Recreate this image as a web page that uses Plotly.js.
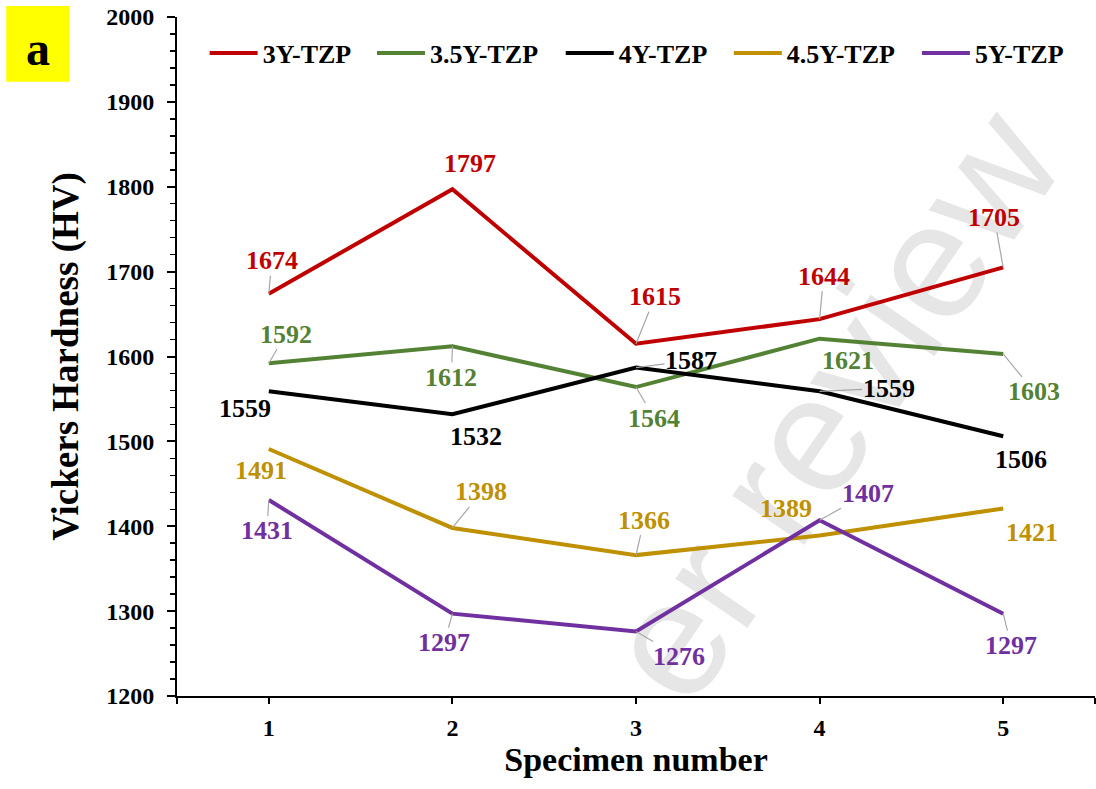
<!DOCTYPE html>
<html>
<head>
<meta charset="utf-8">
<script src="https://cdn.plot.ly/plotly-3.0.1.min.js"></script>
<style>
  html, body { margin: 0; padding: 0; background: #ffffff; overflow: hidden; }
  #wrap { position: relative; width: 1096px; height: 789px; overflow: hidden; }
  #wm { position: absolute; left: 832px; top: 405px; transform: translate(-50%, -50%) rotate(-55.5deg);
        font-family: "Liberation Sans", Arial, sans-serif; font-size: 165px; line-height: 1;
        color: #e6e6e6; white-space: nowrap; z-index: 0; }
  #chart { position: absolute; left: 0; top: 0; width: 1096px; height: 789px; z-index: 1; }
</style>
</head>
<body>
<div id="wrap">
  <div id="wm">er review</div>
  <div id="chart"></div>
</div>
<script>
// ---- data ----
const specimens = [1, 2, 3, 4, 5];
const seriesNames = ['3Y-TZP', '3.5Y-TZP', '4Y-TZP', '4.5Y-TZP', '5Y-TZP'];
const hv3Y  = [1674, 1797, 1615, 1644, 1705];
const hv35Y = [1592, 1612, 1564, 1621, 1603];
const hv4Y  = [1559, 1532, 1587, 1559, 1506];
const hv45Y = [1491, 1398, 1366, 1389, 1421];
const hv5Y  = [1431, 1297, 1276, 1407, 1297];
const xTickVals = [0.5, 1, 2, 3, 4, 5, 5.5];
const xTickText = ['', '1', '2', '3', '4', '5', ''];

// ---- styling / layout helpers (not data) ----
const seriesValues = [hv3Y, hv35Y, hv4Y, hv45Y, hv5Y];
const colors = ['#C00000', '#548235', '#000000', '#BF9000', '#7030A0'];
// label offsets in px [ax, ay, hasLeader]
const labelOffsets = [
  [[3, -33, 1], [18, -26, 0], [19, -47, 1], [4, -43, 1], [-9, -50, 1]],
  [[17, -29, 1], [-1, 31, 1], [18, 31, 1], [28, 22, 0], [31, 38, 1]],
  [[-24, 17, 0], [24, 22, 0], [55, -7, 1], [69, -3, 1], [18, 23, 0]],
  [[-8, 21, 0], [29, -36, 1], [8, -35, 1], [-34, -27, 0], [29, 24, 0]],
  [[-2, 31, 1], [-8, 29, 1], [43, 25, 1], [48, -27, 1], [8, 32, 1]]
];
const legendX = [0.0301, 0.2124, 0.4180, 0.6011, 0.8060];
const FONT = '"Liberation Serif", "Times New Roman", serif';

const traces = seriesValues.map((vals, i) => ({
  type: 'scatter',
  mode: 'lines',
  x: specimens,
  y: vals,
  name: seriesNames[i],
  line: { color: colors[i], width: 4 },
  legend: i === 0 ? 'legend' : 'legend' + (i + 1),
  hoverinfo: 'x+y+name'
}));

const annotations = [];
seriesValues.forEach((vals, i) => {
  vals.forEach((v, j) => {
    const off = labelOffsets[i][j];
    const a = {
      x: specimens[j], y: v, xref: 'x', yref: 'y',
      text: String(v),
      font: { family: FONT, size: 26, color: colors[i], weight: 'bold' }
    };
    if (off[2]) {
      Object.assign(a, { showarrow: true, ax: off[0], ay: off[1], arrowhead: 0,
        arrowwidth: 1.2, arrowcolor: '#A6A6A6', standoff: 0, borderpad: 0 });
    } else {
      Object.assign(a, { showarrow: false, xshift: off[0], yshift: -off[1] });
    }
    annotations.push(a);
  });
});
annotations.push({
  x: -0.1509, y: 0.9543, xref: 'paper', yref: 'paper', xanchor: 'center', yanchor: 'middle',
  showarrow: false,
  text: 'a', font: { family: FONT, size: 48, color: '#000', weight: 'bold' }
});

const legendBase = {
  orientation: 'h', xanchor: 'left', yanchor: 'middle', y: 0.947,
  bgcolor: 'rgba(0,0,0,0)', borderwidth: 0, itemwidth: 48,
  font: { family: FONT, size: 26, color: '#000', weight: 'bold' }
};
const layout = {
  width: 1096, height: 789,
  margin: { l: 177, r: 1, t: 17, b: 93, pad: 0 },
  paper_bgcolor: 'rgba(0,0,0,0)', plot_bgcolor: 'rgba(0,0,0,0)',
  font: { family: FONT, size: 24, color: '#000', weight: 'bold' },
  showlegend: true,
  xaxis: {
    range: [0.5, 5.5], tickmode: 'array', tickvals: xTickVals, ticktext: xTickText,
    showgrid: false, zeroline: false, showline: true, linecolor: '#000', linewidth: 2,
    ticks: 'outside', ticklen: 6, tickwidth: 2, tickcolor: '#000', ticklabelstandoff: 3,
    tickfont: { family: FONT, size: 24, color: '#000', weight: 'bold' },
    title: { text: 'Specimen number', standoff: 4, font: { family: FONT, size: 34, color: '#000', weight: 'bold' } }
  },
  yaxis: {
    range: [1200, 2000], dtick: 100, tick0: 1200,
    showgrid: false, zeroline: false, showline: true, linecolor: '#000', linewidth: 2,
    ticks: 'outside', ticklen: 8, tickwidth: 2, tickcolor: '#000', ticklabelstandoff: 8,
    minor: { dtick: 20, ticks: 'outside', ticklen: 5, tickwidth: 1.5, tickcolor: '#000', showgrid: false },
    tickfont: { family: FONT, size: 24, color: '#000', weight: 'bold' },
    title: { text: 'Vickers Hardness (HV)', standoff: 16, font: { family: FONT, size: 37, color: '#000', weight: 'bold' } }
  },
  xaxis2: {
    overlaying: 'x', anchor: 'y', side: 'bottom', range: [0.5, 5.5],
    tickmode: 'array', tickvals: xTickVals, showticklabels: false,
    ticks: 'inside', ticklen: 6, tickwidth: 2, tickcolor: '#000',
    showgrid: false, zeroline: false, showline: false
  },
  yaxis2: {
    overlaying: 'y', anchor: 'x', side: 'left', range: [1200, 2000], dtick: 100, tick0: 1200,
    showticklabels: false, ticks: 'inside', ticklen: 8, tickwidth: 2, tickcolor: '#000',
    showgrid: false, zeroline: false, showline: false
  },
  shapes: [{
    type: 'rect', xref: 'paper', yref: 'paper',
    x0: -0.186, x1: -0.1172, y0: 0.9047, y1: 1.0162,
    fillcolor: '#FFFF00', line: { width: 0 }, layer: 'below'
  }],
  annotations: annotations
};
for (let i = 0; i < 5; i++) {
  const key = i === 0 ? 'legend' : 'legend' + (i + 1);
  layout[key] = Object.assign({}, legendBase, { x: legendX[i] });
}

Plotly.newPlot('chart', traces, layout, { displayModeBar: false, staticPlot: true });
</script>
</body>
</html>
